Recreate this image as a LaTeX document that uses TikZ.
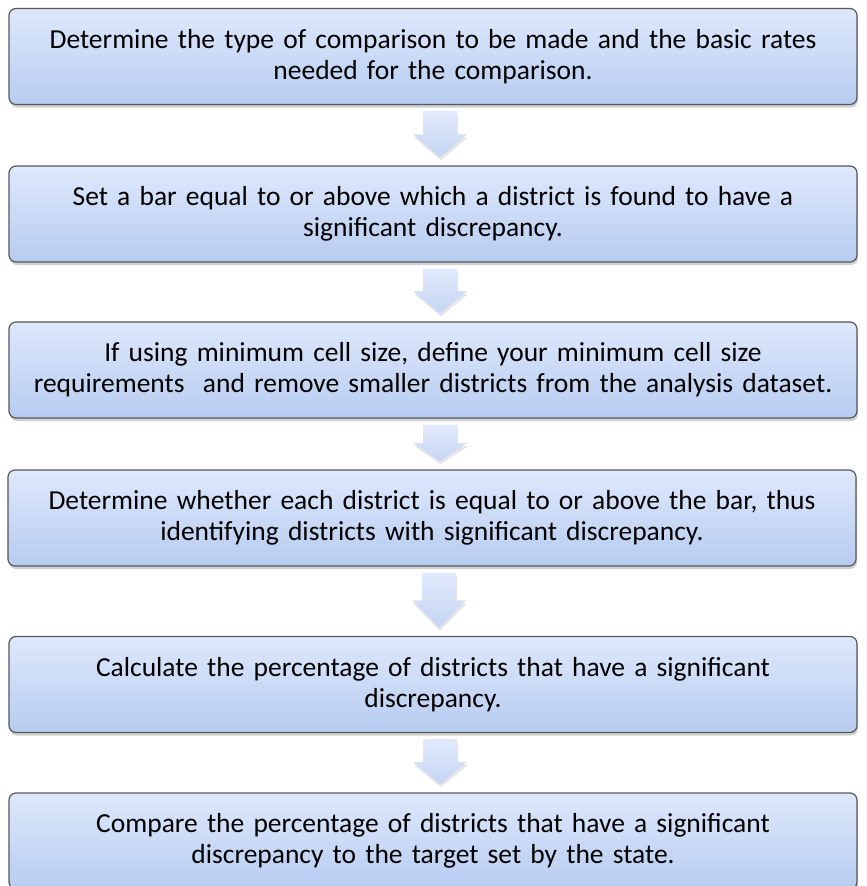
\documentclass[tikz,border=0pt]{standalone}
\usepackage{fontspec}
\setmainfont{Carlito}
\usetikzlibrary{calc, shadows}
\definecolor{boxtop}{RGB}{222,232,251}
\definecolor{boxbottom}{RGB}{183,204,241}
\definecolor{boxline}{RGB}{88,88,88}
\definecolor{arrowtop}{RGB}{226,234,252}
\definecolor{arrowbottom}{RGB}{197,212,243}

\begin{document}
\begin{tikzpicture}[
    x=1bp, y=-1bp,
    stepbox/.style={draw=boxline, line width=1.2bp, rounded corners=7bp, top color=boxtop, bottom color=boxbottom, minimum width=848bp, minimum height=96bp, text width=846bp, align=center, inner sep=0pt, font=\fontsize{27.6}{31}\selectfont, drop shadow={opacity=0.3, shadow xshift=1bp, shadow yshift=-3bp, fill=black!60}},
    blockarrow/.style={top color=arrowtop, bottom color=arrowbottom, drop shadow={opacity=0.2, shadow xshift=1bp, shadow yshift=-3bp, fill=black!50}}
]
    \useasboundingbox (0,0) rectangle (867,886);

    % Steps
    \node[stepbox] (determine) at (433,56.5) {Determine the type of comparison to be made and the basic rates\\ needed for the comparison.};
    \node[stepbox] (bar) at (433,214) {Set a bar equal to or above which a district is found to have a\\ significant discrepancy.};
    \node[stepbox] (cellsize) at (433,370) {If using minimum cell size, define your minimum cell size\\ requirements~ and remove smaller districts from the analysis dataset.};
    \node[stepbox] (whether) at (432,518) {Determine whether each district is equal to or above the bar, thus\\ identifying districts with significant discrepancy.};
    \node[stepbox] (percent) at (433,684.5) {Calculate the percentage of districts that have a significant\\ discrepancy.};
    \node[stepbox] (compare) at (433,841) {Compare the percentage of districts that have a significant\\ discrepancy to the target set by the state.};

    % Block arrows between the steps
    \foreach \a/\b in {determine/bar, bar/cellsize, cellsize/whether, whether/percent, percent/compare}
        \path[blockarrow] let \p1=(\a.south), \p2=(\b.north), \n1={\y1-6bp}, \n2={\y2+8bp}, \n3={0.5*(\n1+\n2)} in
            (\x1-10bp,\n1) -- (\x1+24bp,\n1) -- (\x1+24bp,\n3) -- (\x1+34bp,\n3) -- (\x1+7bp,\n2)
            -- (\x1-20bp,\n3) -- (\x1-10bp,\n3) -- cycle;
\end{tikzpicture}
\end{document}
